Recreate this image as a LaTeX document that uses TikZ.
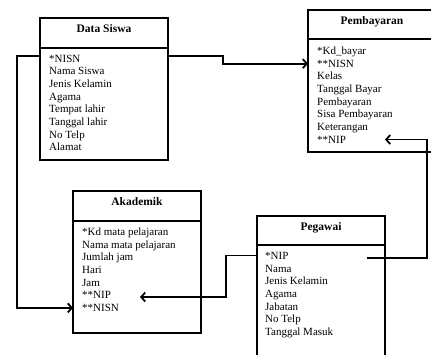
\documentclass[tikz,border=0pt]{standalone}
\usepackage{fontspec}
\setmainfont{Liberation Serif}
\usetikzlibrary{positioning,arrows.meta}

\tikzset{
  tblhead/.style={draw,line width=1.9pt,outer sep=0pt,minimum width=128pt,minimum height=30pt,
    font=\fontsize{11.5}{13}\selectfont\bfseries,text depth=8.5pt},
  tblbody/.style={draw,line width=1.9pt,outer sep=0pt,minimum width=128pt},
  attr/.style={anchor=west,inner sep=0pt,text height=7.3pt,text depth=0pt,font=\fontsize{11}{13}\selectfont},
  link/.style={line width=1.8pt,-{Straight Barb[length=4pt,width=9pt]}}
}

\begin{document}
\begin{tikzpicture}[x=1pt,y=-1pt]
                \useasboundingbox (0,0) rectangle (431,354);
                \node[tblhead] (siswa) at (104,33) {Data Siswa};
                \node[tblbody,minimum height=112pt,below=0pt of siswa] (siswa-b) {};
                \node[attr] (s1) at (49,58.5) {*NISN};
                \node[attr] (s2) at (49,71.15) {Nama Siswa};
                \node[attr] (s3) at (49,83.8) {Jenis Kelamin};
                \node[attr] (s4) at (49,96.45) {Agama};
                \node[attr] (s5) at (49,109.1) {Tempat lahir};
                \node[attr] (s6) at (49,121.75) {Tanggal lahir};
                \node[attr] (s7) at (49,134.4) {No Telp};
                \node[attr] (s8) at (49,147.05) {Alamat};
                \node[tblhead,minimum height=29pt] (bayar) at (372,24.5) {Pembayaran};
                \node[tblbody,minimum height=113pt,below=0pt of bayar] (bayar-b) {};
                \node[attr] (p1) at (317,51) {*Kd\_bayar};
                \node[attr] (p2) at (317,63.65) {**NISN};
                \node[attr] (p3) at (317,76.3) {Kelas};
                \node[attr] (p4) at (317,88.95) {Tanggal Bayar};
                \node[attr] (p5) at (317,101.6) {Pembayaran};
                \node[attr] (p6) at (317,114.25) {Sisa Pembayaran};
                \node[attr] (p7) at (317,126.9) {Keterangan};
                \node[attr] (p8) at (317,139.55) {**NIP};
                \node[tblhead] (akad) at (137,206) {Akademik};
                \node[tblbody,minimum height=112pt,below=0pt of akad] (akad-b) {};
                \node[attr] (a1) at (82,232) {*Kd mata pelajaran};
                \node[attr] (a2) at (82,244.65) {Nama mata pelajaran};
                \node[attr] (a3) at (82,257.3) {Jumlah jam};
                \node[attr] (a4) at (82,269.95) {Hari};
                \node[attr] (a5) at (82,282.6) {Jam};
                \node[attr] (a6) at (82,295.25) {**NIP};
                \node[attr] (a7) at (82,307.9) {**NISN};
                \node[tblhead,minimum height=29pt] (pega) at (321,230.5) {Pegawai};
                \node[tblbody,minimum height=130pt,below=0pt of pega] (pega-b) {};
                \node[attr] (g1) at (265,256) {*NIP};
                \node[attr] (g2) at (265,268.65) {Nama};
                \node[attr] (g3) at (265,281.3) {Jenis Kelamin};
                \node[attr] (g4) at (265,293.95) {Agama};
                \node[attr] (g5) at (265,306.6) {Jabatan};
                \node[attr] (g6) at (265,319.25) {No Telp};
                \node[attr] (g7) at (265,331.9) {Tanggal Masuk};
                \coordinate (k1) at (17,56);
                \coordinate (k2) at (223,56);
                \coordinate (k3) at (367,258);
                \coordinate (k4) at (427,258);
                \coordinate (k5) at (226,255.5);
                \coordinate (k6) at (140,297);
                \draw[link] (siswa-b.west |- k1) -- (k1) |- (akad-b.west |- a7);
                \draw[link] (siswa-b.east |- k2) -- (k2) |- (bayar-b.west |- p2);
                \draw[link] (k3) -- (k4) |- (pega-b.east |- p8);
                \draw[link] (pega-b.west |- k5) -- (k5) |- (k6);
            \end{tikzpicture}
\end{document}
